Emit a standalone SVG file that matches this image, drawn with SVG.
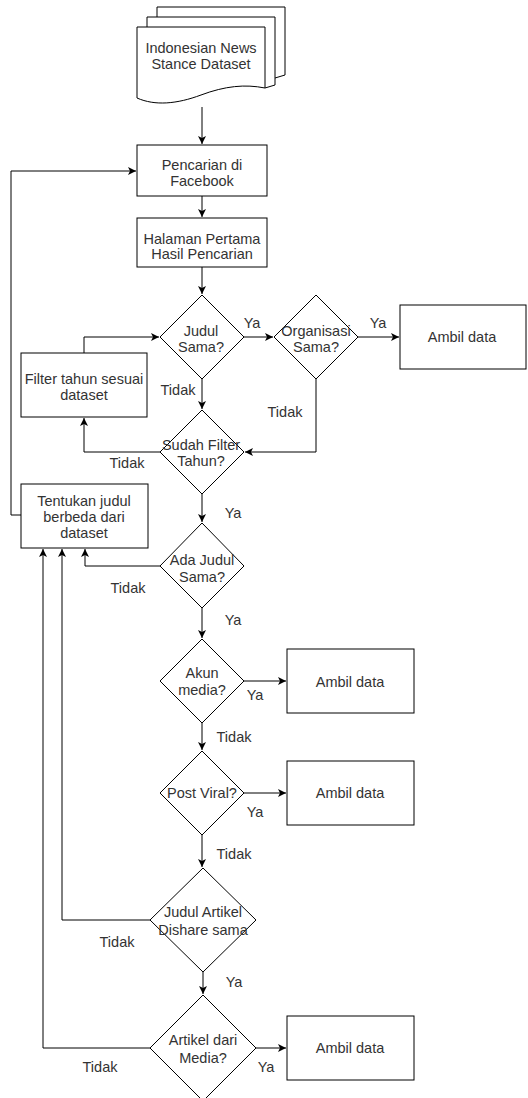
<svg xmlns="http://www.w3.org/2000/svg" width="528" height="1098" viewBox="0 0 528 1098">
<style>
.s{fill:#fff;stroke:#000;stroke-width:1}
.c{fill:none;stroke:#000;stroke-width:1}
text{font-family:"Liberation Sans",Arial,sans-serif;font-size:14.5px;fill:#333;text-anchor:middle}
</style>
<defs>
<marker id="a" markerUnits="userSpaceOnUse" markerWidth="9" markerHeight="8" refX="8" refY="4" orient="auto">
<path d="M0,0 L8,4 L0,8 L2,4 Z" fill="#000"/>
</marker>
</defs>
<rect width="528" height="1098" fill="#fff"/>
<g id="connectors" class="c" marker-end="url(#a)">
<path d="M202,107 V144"/>
<path d="M202,196 V217"/>
<path d="M202,267 V294"/>
<path d="M244,337 H273"/>
<path d="M358,337 H399"/>
<path d="M316,379 V452 H245"/>
<path d="M202,379 V409"/>
<path d="M160,452 H84 V418"/>
<path d="M84,353 V337 H159"/>
<path d="M202,494 V522"/>
<path d="M160,566 H85 V549"/>
<path d="M21,515 H11 V171 H136"/>
<path d="M202,608 V638"/>
<path d="M244,681 H286"/>
<path d="M202,723 V750"/>
<path d="M244,793 H286"/>
<path d="M202,835 V867"/>
<path d="M150,920 H62 V549"/>
<path d="M203,972 V994"/>
<path d="M150,1048 H43 V549"/>
<path d="M256,1048 H286"/>
</g>
<g id="dataset">
<path class="s" d="M157,17 V7 H285 V75 L275,78"/>
<path class="s" d="M147,27 V17 H275 V85 L265,88"/>
<path class="s" d="M137,27 H265 V88 C245,84 225,86 201,95 C177,104 155,106 137,98 Z"/>
<text x="201" y="53">Indonesian News</text>
<text x="201" y="69">Stance Dataset</text>
</g>
<g id="pencarian">
<rect class="s" x="137" y="145" width="130" height="51"/>
<text x="202" y="170">Pencarian di</text>
<text x="202" y="186">Facebook</text>
</g>
<g id="halaman">
<rect class="s" x="137" y="218" width="130" height="49"/>
<text x="202" y="244">Halaman Pertama</text>
<text x="202" y="259">Hasil Pencarian</text>
</g>
<g id="judulSama">
<path class="s" d="M202,295 L244,337 L202,379 L160,337 Z"/>
<text x="201" y="336">Judul</text>
<text x="201" y="352">Sama?</text>
</g>
<g id="organisasi">
<path class="s" d="M316,295 L358,337 L316,379 L274,337 Z"/>
<text x="316" y="336">Organisasi</text>
<text x="316" y="352">Sama?</text>
</g>
<g id="ambil1">
<rect class="s" x="400" y="305" width="126" height="64"/>
<text x="462" y="342">Ambil data</text>
</g>
<g id="filterTahun">
<rect class="s" x="21" y="353" width="126" height="64"/>
<text x="84" y="384">Filter tahun sesuai</text>
<text x="84" y="400">dataset</text>
</g>
<g id="sudahFilter">
<path class="s" d="M202,410 L244,452 L202,494 L160,452 Z"/>
<text x="201" y="450">Sudah Filter</text>
<text x="201" y="466">Tahun?</text>
</g>
<g id="tentukan">
<rect class="s" x="21" y="484" width="127" height="64"/>
<text x="84" y="506">Tentukan judul</text>
<text x="84" y="522">berbeda dari</text>
<text x="84" y="538">dataset</text>
</g>
<g id="adaJudul">
<path class="s" d="M202,523 L244,566 L202,608 L160,566 Z"/>
<text x="202" y="565">Ada Judul</text>
<text x="202" y="582">Sama?</text>
</g>
<g id="akunMedia">
<path class="s" d="M202,639 L244,681 L202,723 L160,681 Z"/>
<text x="202" y="678">Akun</text>
<text x="202" y="695">media?</text>
</g>
<g id="ambil2">
<rect class="s" x="287" y="649" width="127" height="64"/>
<text x="350" y="687">Ambil data</text>
</g>
<g id="postViral">
<path class="s" d="M202,751 L244,793 L202,835 L160,793 Z"/>
<text x="202" y="798">Post Viral?</text>
</g>
<g id="ambil3">
<rect class="s" x="287" y="761" width="127" height="64"/>
<text x="350" y="798">Ambil data</text>
</g>
<g id="judulArtikel">
<path class="s" d="M203,868 L256,920 L203,972 L150,920 Z"/>
<text x="203" y="917">Judul Artikel</text>
<text x="203" y="935">Dishare sama</text>
</g>
<g id="artikelMedia">
<path class="s" d="M203,995 L256,1048 L203,1101 L150,1048 Z"/>
<text x="203" y="1045">Artikel dari</text>
<text x="203" y="1063">Media?</text>
</g>
<g id="ambil4">
<rect class="s" x="287" y="1016" width="127" height="64"/>
<text x="350" y="1053">Ambil data</text>
</g>
<g id="labels">
<text x="252" y="328">Ya</text>
<text x="378" y="328">Ya</text>
<text x="178" y="395">Tidak</text>
<text x="285" y="417">Tidak</text>
<text x="127" y="468">Tidak</text>
<text x="233" y="518">Ya</text>
<text x="128" y="593">Tidak</text>
<text x="233" y="625">Ya</text>
<text x="255" y="700">Ya</text>
<text x="234" y="742">Tidak</text>
<text x="255" y="817">Ya</text>
<text x="234" y="859">Tidak</text>
<text x="117" y="947">Tidak</text>
<text x="234" y="987">Ya</text>
<text x="100" y="1072">Tidak</text>
<text x="266" y="1072">Ya</text>
</g>
</svg>
